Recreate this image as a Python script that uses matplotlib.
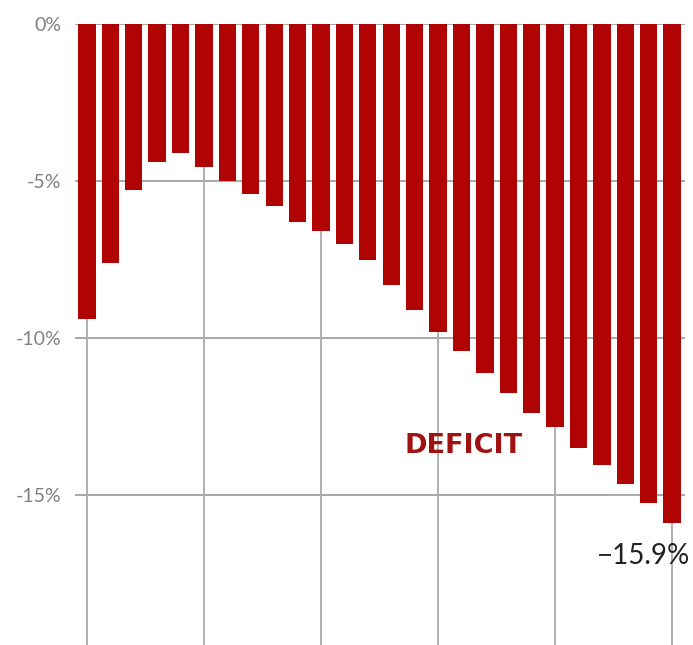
import numpy as np
import matplotlib
matplotlib.use("Agg")
from matplotlib import pyplot as plt

# deficit as share, one bar per year (26 bars, no x labels in source)
bar_index = list(range(26))
deficit_pct = [-9.4, -7.6, -5.3, -4.4, -4.1, -4.55, -5.0, -5.4, -5.8, -6.3,
               -6.6, -7.0, -7.5, -8.3, -9.1, -9.8, -10.4, -11.1, -11.75, -12.4,
               -12.85, -13.5, -14.05, -14.65, -15.25, -15.9]
y_ticks = [0, -5, -10, -15, -20]
y_tick_labels = ["0%", "-5%", "-10%", "-15%", "-20%"]
x_grid = [0, 5, 10, 15, 20, 25]

plt.rcParams['font.family'] = ['Lato', 'DejaVu Sans']

fig = plt.figure(figsize=(6.93, 6.45), dpi=100)
W, H = 693, 645
# axes box in pixels: left 75, right 685, top 24, bottom (-20%) at 652
ax = fig.add_axes([75 / W, (H - 652) / H, (685 - 75) / W, (652 - 24) / H])

ax.bar(bar_index, deficit_pct, width=0.74, color="#b00303", zorder=3)

ax.set_xlim(-0.51, 25.55)
ax.set_ylim(-20, 0)

# grid
for g in y_ticks:
    ax.axhline(g, color="#a8a8a8", lw=1.4, zorder=1)
for g in x_grid:
    ax.axvline(g, color="#b0b0b0", lw=1.4, zorder=1)

ax.set_xticks([])
ax.set_yticks(y_ticks)
ax.set_yticklabels(y_tick_labels, fontsize=14, color="#808080")
ax.tick_params(axis="y", length=0, pad=10)
for s in ax.spines.values():
    s.set_visible(False)

ax.text(16.1, -13.45, "DEFICIT", color="#a01212", fontsize=19.5,
        fontweight="bold", family=["DejaVu Sans"],
        ha="center", va="center", zorder=4)
ax.text(25.75, -16.95, "\u221215.9%", color="#222222", fontsize=20,
        ha="right", va="center", zorder=4)

fig.savefig("out.png", dpi=100)
plt.close(fig)
